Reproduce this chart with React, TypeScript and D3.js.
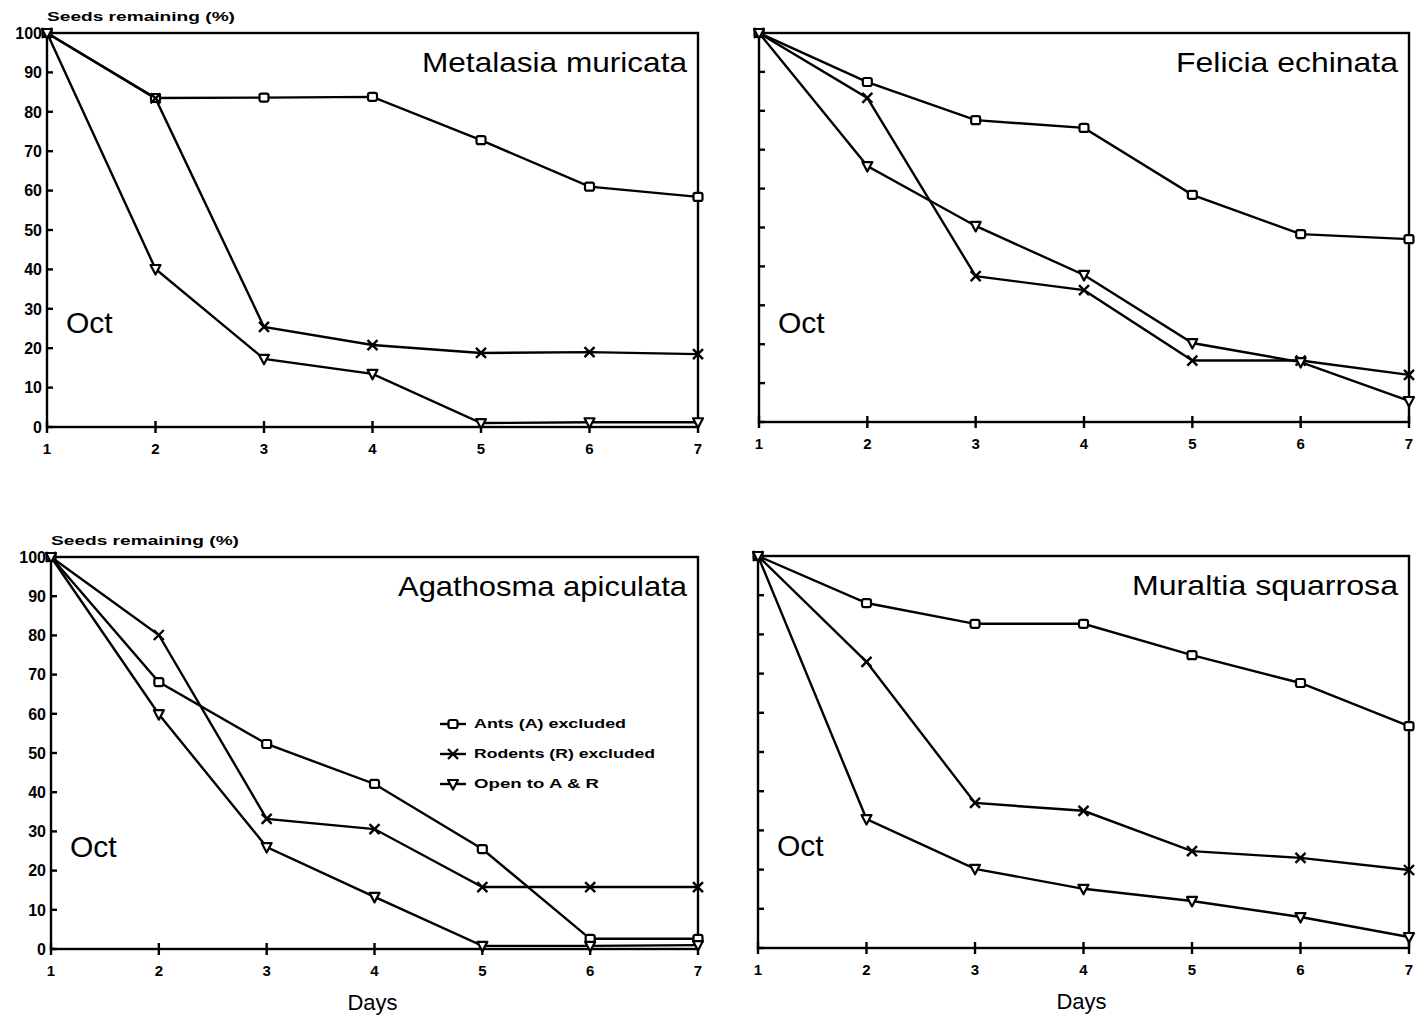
import React from 'react';
import * as d3 from 'd3';

const days = [1, 2, 3, 4, 5, 6, 7];
const yTicks = [0, 10, 20, 30, 40, 50, 60, 70, 80, 90, 100];
const seriesNames = ['Ants (A) excluded', 'Rodents (R) excluded', 'Open to A & R'];
const seriesKeys = ['square', 'cross', 'triangle'];

// Metalasia muricata
const metalasiaAnts = [100, 83.5, 83.6, 83.8, 72.8, 61, 58.4];
const metalasiaRodents = [100, 83.4, 25.4, 20.8, 18.8, 19, 18.5];
const metalasiaOpen = [100, 40.1, 17.3, 13.5, 1, 1.2, 1.2];

// Felicia echinata
const feliciaAnts = [100, 87.4, 77.6, 75.6, 58.4, 48.3, 47];
const feliciaRodents = [100, 83.3, 37.5, 33.9, 15.8, 15.8, 12.1];
const feliciaOpen = [100, 65.8, 50.4, 37.8, 20.3, 15.4, 5.4];

// Agathosma apiculata
const agathosmaAnts = [100, 68.1, 52.3, 42.1, 25.5, 2.6, 2.6];
const agathosmaRodents = [100, 80.1, 33.2, 30.6, 15.8, 15.8, 15.8];
const agathosmaOpen = [100, 59.9, 26, 13.3, 0.8, 0.8, 1];

// Muraltia squarrosa
const muraltiaAnts = [100, 88, 82.7, 82.7, 74.7, 67.6, 56.6];
const muraltiaRodents = [100, 73, 37, 35, 24.7, 23, 19.9];
const muraltiaOpen = [100, 32.9, 20.2, 15.1, 12, 7.9, 2.8];

const FONT = '"Liberation Sans", Arial, sans-serif';
const SW = 2.4;

type PanelProps = {
    title: string;
    series: number[][];
    x0: number; x1: number; yTop: number; yBottom: number;
    showYLabels: boolean;
    showYTitle: boolean;
    showDays: boolean;
    showLegend: boolean;
    titleStart: number;
};

const Marker = ({ kind, x, y }: { kind: string; x: number; y: number }) => {
    if (kind === 'square') {
        return <rect x={x - 4.5} y={y - 4} width={9} height={8} rx={2} fill="white" stroke="black" strokeWidth={2.2} />;
    }
    if (kind === 'cross') {
        return <path d={`M${x - 5},${y - 5}L${x + 5},${y + 5}M${x - 5},${y + 5}L${x + 5},${y - 5}`} stroke="black" strokeWidth={2.4} />;
    }
    return <path d={`M${x - 5},${y - 4}L${x + 5},${y - 4}L${x},${y + 5.5}Z`} fill="white" stroke="black" strokeWidth={2.2} strokeLinejoin="round" />;
};

const Panel = (p: PanelProps) => {
    const x = d3.scaleLinear().domain([1, 7]).range([p.x0, p.x1]);
    const y = d3.scaleLinear().domain([0, 100]).range([p.yBottom, p.yTop]);
    const line = d3.line<number>().x((_, i) => x(days[i])).y(d => y(d));

    return (
        <g>
            {/* frame */}
            <rect x={p.x0} y={p.yTop} width={p.x1 - p.x0} height={p.yBottom - p.yTop}
                fill="none" stroke="black" strokeWidth={SW} />

            {/* y ticks (inside) */}
            {yTicks.map(t => (
                <g key={'y' + t}>
                    <line x1={p.x0} x2={p.x0 + 6} y1={y(t)} y2={y(t)} stroke="black" strokeWidth={SW} />
                    {p.showYLabels && (
                        <text x={p.x0 - 5} y={y(t)} dy="0.36em" textAnchor="end"
                            fontFamily={FONT} fontSize={16} fontWeight="bold">{t}</text>
                    )}
                </g>
            ))}

            {/* x ticks (crossing) */}
            {days.map(d => (
                <g key={'x' + d}>
                    <line x1={x(d)} x2={x(d)} y1={p.yBottom - 6} y2={p.yBottom + 6} stroke="black" strokeWidth={SW} />
                    <text x={x(d)} y={p.yBottom + 27} textAnchor="middle"
                        fontFamily={FONT} fontSize={15} fontWeight="bold">{d}</text>
                </g>
            ))}

            {p.showYTitle && (
                <text x={p.x0} y={p.yTop - 12} fontFamily={FONT} fontSize={13} fontWeight="bold"
                    textLength={188} lengthAdjust="spacingAndGlyphs">Seeds remaining (%)</text>
            )}

            {p.showDays && (
                <text x={x(4) - 2} y={p.yBottom + 61} textAnchor="middle" fontFamily={FONT} fontSize={22}>Days</text>
            )}

            <text x={p.titleStart} y={p.yTop + 39} fontFamily={FONT} fontSize={28}
                textLength={p.x1 - 11 - p.titleStart} lengthAdjust="spacingAndGlyphs">{p.title}</text>

            <text x={p.x0 + 19} y={p.yTop + 300} fontFamily={FONT} fontSize={30}>Oct</text>

            {/* series */}
            {p.series.map((s, i) => (
                <path key={'l' + i} d={line(s) || ''} fill="none" stroke="black" strokeWidth={SW} />
            ))}
            {p.series.map((s, i) => (
                <g key={'m' + i}>
                    {s.map((v, j) => (
                        <Marker key={j} kind={seriesKeys[i]} x={x(days[j])} y={y(v)} />
                    ))}
                </g>
            ))}

            {p.showLegend && (
                <g>
                    {seriesNames.map((n, i) => {
                        const ly = p.yTop + 167 + i * 30;
                        return (
                            <g key={n}>
                                <line x1={440} x2={466} y1={ly} y2={ly} stroke="black" strokeWidth={SW} />
                                <Marker kind={seriesKeys[i]} x={453} y={ly} />
                                <text x={474} y={ly} dy="0.36em" fontFamily={FONT} fontSize={12} fontWeight="bold"
                                    textLength={i === 0 ? 152 : i === 1 ? 181 : 125} lengthAdjust="spacingAndGlyphs">{n}</text>
                            </g>
                        );
                    })}
                </g>
            )}
        </g>
    );
};

const App = () => {
    return (
        <svg width={1424} height={1019} style={{ position: 'absolute', left: 0, top: 0, background: 'white' }}>
            <rect width={1424} height={1019} fill="white" />
            <Panel title="Metalasia muricata" series={[metalasiaAnts, metalasiaRodents, metalasiaOpen]}
                x0={47} x1={698} yTop={33} yBottom={427} showYLabels showYTitle showDays={false}
                showLegend={false} titleStart={422} />
            <Panel title="Felicia echinata" series={[feliciaAnts, feliciaRodents, feliciaOpen]}
                x0={759} x1={1409} yTop={33} yBottom={422} showYLabels={false} showYTitle={false}
                showDays={false} showLegend={false} titleStart={1176} />
            <Panel title="Agathosma apiculata" series={[agathosmaAnts, agathosmaRodents, agathosmaOpen]}
                x0={51} x1={698} yTop={557} yBottom={949} showYLabels showYTitle showDays
                showLegend titleStart={398} />
            <Panel title="Muraltia squarrosa" series={[muraltiaAnts, muraltiaRodents, muraltiaOpen]}
                x0={758} x1={1409} yTop={556} yBottom={948} showYLabels={false} showYTitle={false}
                showDays showLegend={false} titleStart={1132} />
        </svg>
    );
};

export default App;
